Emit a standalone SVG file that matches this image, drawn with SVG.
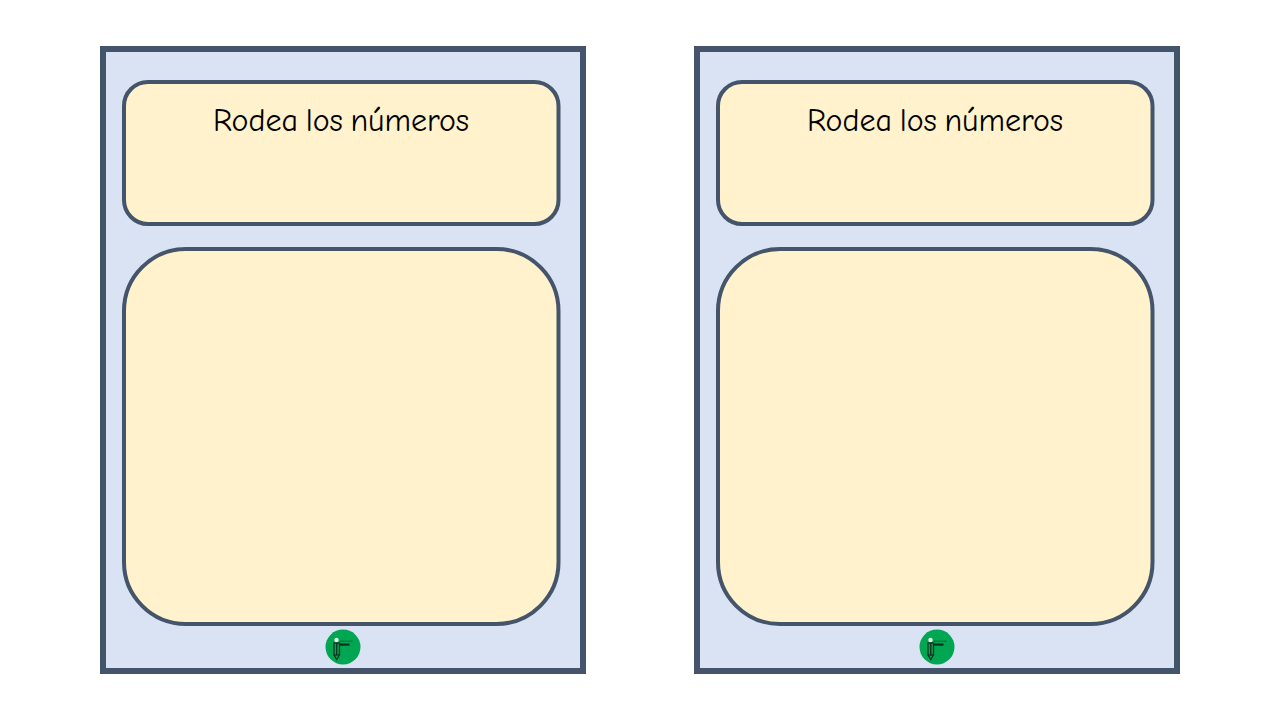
<svg xmlns="http://www.w3.org/2000/svg" xmlns:xlink="http://www.w3.org/1999/xlink" width="1280" height="720" viewBox="0 0 1280 720">
<style>
.page{fill:#dae3f3;stroke:#44546a;stroke-width:6}
.box{fill:#fff2cc;stroke:#44546a;stroke-width:4}
.title{font-family:"Comic Neue","Quicksand","Lato","Liberation Sans",sans-serif;font-size:32px;word-spacing:-3px;fill:#000;text-anchor:middle}
.badge{fill:#00a651}
.ink{fill:none;stroke:#10301f;stroke-width:1.300}
.bar{fill:#10301f}
</style>
<defs>
<g id="logo">
<circle class="badge" cx="0" cy="0" r="17.500"/>
<circle cx="-6.500" cy="-7" r="2.200" fill="#e8f3ec"/>
<rect class="ink" x="-9" y="-4" width="5.500" height="12"/>
<path class="ink" d="M-6.250-4V8M-9 8L-6.250 12.500L-3.500 8"/>
<rect class="bar" x="-3" y="-6.500" width="13" height="1.500" opacity=".35"/>
<rect class="bar" x="-3" y="-3.500" width="9.500" height="2.200"/>
</g>
</defs>
<rect width="1280" height="720" fill="#fff"/>
<g id="card-left">
<rect class="page" x="103" y="49" width="480" height="622"/>
<rect class="box" x="124" y="82" width="434.500" height="142" rx="24" ry="24"/>
<text class="title" x="341" y="131">Rodea los números</text>
<rect class="box" x="124" y="249" width="434.500" height="375" rx="62" ry="62"/>
<use xlink:href="#logo" href="#logo" x="343" y="647"/>
</g>
<g id="card-right">
<rect class="page" x="697" y="49" width="480" height="622"/>
<rect class="box" x="718" y="82" width="434.500" height="142" rx="24" ry="24"/>
<text class="title" x="935" y="131">Rodea los números</text>
<rect class="box" x="718" y="249" width="434.500" height="375" rx="62" ry="62"/>
<use xlink:href="#logo" href="#logo" x="937" y="647"/>
</g>
<g id="connectors"></g>
</svg>
